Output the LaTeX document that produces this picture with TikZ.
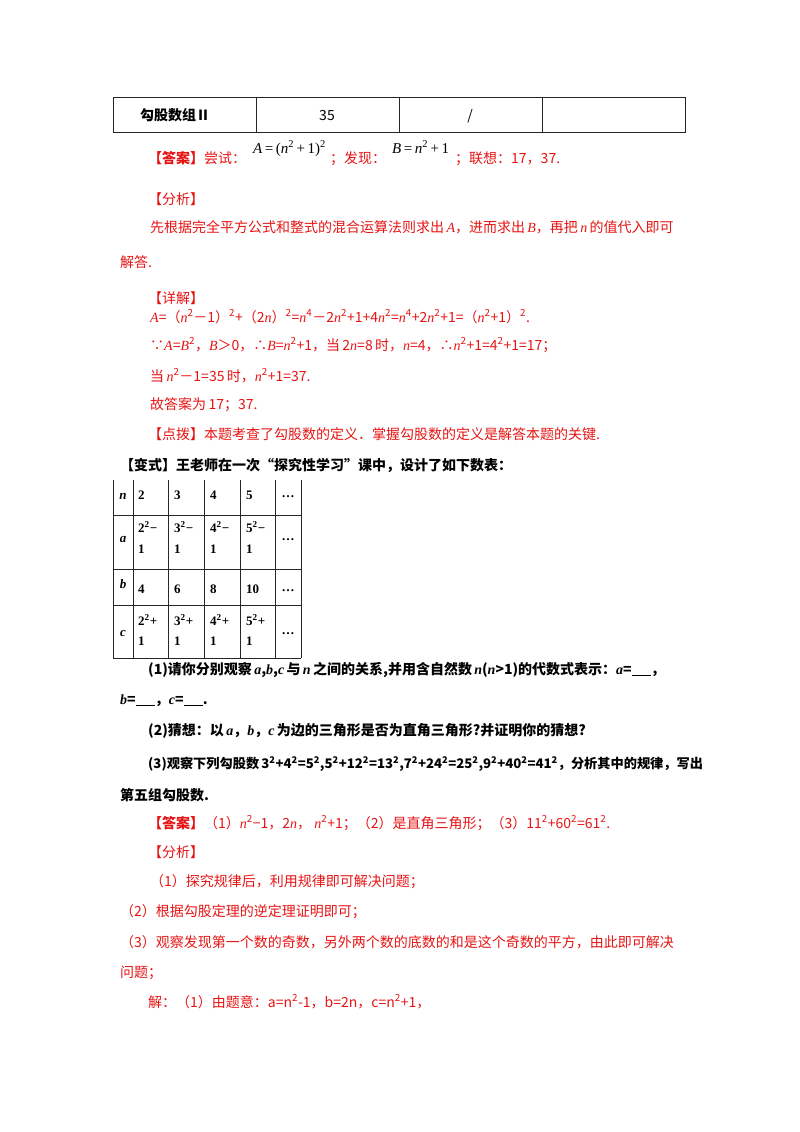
\documentclass[tikz,border=0pt]{standalone}
\usepackage{fontspec}
\setmainfont{Noto Sans CJK SC}
\newfontfamily\ser{Liberation Serif}
\newcommand{\vv}[1]{{\ser\itshape #1}}
\newcommand{\sq}[1]{\textsuperscript{#1}}
\definecolor{ans}{RGB}{230,20,20}
\begin{document}
\begin{tikzpicture}[x=1pt,y=-1pt,
  t/.style={anchor=base west,inner sep=0,font=\fontsize{14}{14}\selectfont},
  r/.style={t,text=ans},
  b/.style={t,font=\fontsize{14}{14}\selectfont\bfseries},
  c/.style={anchor=base,inner sep=0,font=\fontsize{14}{14}\selectfont},
  g/.style={line width=1pt,black!85}]
\useasboundingbox (0,0) rectangle (800,1132);
% top table
\draw[g] (113,97) rectangle (685,132);
\foreach \x in {256,399,542} \draw[g] (\x,97) -- (\x,132);
\node[c,font=\fontsize{14}{14}\selectfont\bfseries] (t1) at (175,120) {勾股数组Ⅱ};
\node[c] (t2) at (327,120) {35};
\node[c] (t3) at (470,120) {/};
% answer
\node[r] (l1) at (148,163) {\textbf{【答案】}尝试：};
\node[t,font=\fontsize{15}{15}\ser] (f1) at (253,153) {\vv{A}\,=\,(\vv{n}\sq{2}\,+\,1)\sq{2}};
\node[r] (l1b) at (330,163) {；发现：};
\node[t,font=\fontsize{15}{15}\ser] (f2) at (392,153) {\vv{B}\,=\,\vv{n}\sq{2}\,+\,1};
\node[r] (l1c) at (455,163) {；联想：17，37.};
\node[r] (l2) at (148,204) {【分析】};
\node[r] (l3) at (150,232) {先根据完全平方公式和整式的混合运算法则求出\,\vv{A}，进而求出\,\vv{B}，再把\,\vv{n}\,的值代入即可};
\node[r] (l4) at (120,267) {解答.};
\node[r] (l5) at (148,303) {【详解】};
\node[r] (l6) at (150,322) {\vv{A}=（\vv{n}\sq{2}－1）\sq{2}+（2\vv{n}）\sq{2}=\vv{n}\sq{4}－2\vv{n}\sq{2}+1+4\vv{n}\sq{2}=\vv{n}\sq{4}+2\vv{n}\sq{2}+1=（\vv{n}\sq{2}+1）\sq{2}.};
\node[r] (l7) at (150,350) {∵\vv{A}=\vv{B}\sq{2}，\vv{B}＞0，∴\vv{B}=\vv{n}\sq{2}+1，当\,2\vv{n}=8\,时，\vv{n}=4，∴\vv{n}\sq{2}+1=4\sq{2}+1=17；};
\node[r] (l8) at (150,381) {当\,\vv{n}\sq{2}－1=35\,时，\vv{n}\sq{2}+1=37.};
\node[r] (l9) at (150,409) {故答案为\,17；37.};
\node[r] (l10) at (148,439) {【点拨】本题考查了勾股数的定义．掌握勾股数的定义是解答本题的关键.};
\node[b] (l11) at (120,470) {【变式】王老师在一次“探究性学习”课中，设计了如下数表：};
% second table
\foreach \x in {113,133,168,204,240,275,301} \draw[g] (\x,480) -- (\x,658);
\foreach \y in {515,569,605,658} \draw[g] (113,\y) -- (301,\y);
\foreach \lab/\y in {n/499,a/542,b/588,c/636}
  \node[c,font=\fontsize{13}{13}\ser\bfseries\itshape] (h\lab) at (123,\y) {\lab};
\foreach \v [count=\i] in {2,3,4,5} {
  \node[t,font=\fontsize{13}{13}\ser\bfseries] (nn\i) at (138+36*\i-36,499) {\v};
  \node[t,font=\fontsize{13}{13}\ser\bfseries] (aa\i) at (138+36*\i-36,532) {\v\sq{2}−};
  \node[t,font=\fontsize{13}{13}\ser\bfseries] (ab\i) at (138+36*\i-36,553) {1};
  \node[t,font=\fontsize{13}{13}\ser\bfseries] (ca\i) at (138+36*\i-36,625) {\v\sq{2}+};
  \node[t,font=\fontsize{13}{13}\ser\bfseries] (cb\i) at (138+36*\i-36,645) {1};
}
\node[t,font=\fontsize{13}{13}\ser\bfseries] (b1) at (138,593) {4};
\node[t,font=\fontsize{13}{13}\ser\bfseries] (b2) at (174,593) {6};
\node[t,font=\fontsize{13}{13}\ser\bfseries] (b3) at (210,593) {8};
\node[t,font=\fontsize{13}{13}\ser\bfseries] (b4) at (246,593) {10};
\foreach \y [count=\i] in {497,540,591,634} \node[c,font=\fontsize{13}{13}\ser\bfseries] (d\i) at (288,\y) {…};
% questions
\node[b] (q1) at (148,674) {(1)请你分别观察\,\vv{a},\vv{b},\vv{c}\,与\,\vv{n}\,之间的关系,并用含自然数\,\vv{n}(\vv{n}>1)的代数式表示：\vv{a}=\underline{\ \ \ \ \ \ }，};
\node[b] (q1b) at (120,704) {\vv{b}=\underline{\ \ \ \ \ \ }，\vv{c}=\underline{\ \ \ \ \ \ }.};
\node[b] (q2) at (148,735) {(2)猜想：以\,\vv{a}，\vv{b}，\vv{c}\,为边的三角形是否为直角三角形?并证明你的猜想?};
\node[b,font=\fontsize{13.2}{14}\selectfont\bfseries] (q3) at (148,768) {(3)观察下列勾股数\,3\sq{2}+4\sq{2}=5\sq{2},5\sq{2}+12\sq{2}=13\sq{2},7\sq{2}+24\sq{2}=25\sq{2},9\sq{2}+40\sq{2}=41\sq{2}，分析其中的规律，写出};
\node[b] (q4) at (120,800) {第五组勾股数.};
\node[r] (k1) at (148,828) {\textbf{【答案】}（1）\vv{n}\sq{2}−1，2\vv{n}，\ \vv{n}\sq{2}+1；（2）是直角三角形；（3）11\sq{2}+60\sq{2}=61\sq{2}.};
\node[r] (k2) at (148,857) {【分析】};
\node[r] (k3) at (150,886) {（1）探究规律后，利用规律即可解决问题；};
\node[r] (k4) at (120,916) {（2）根据勾股定理的逆定理证明即可；};
\node[r] (k5) at (120,947) {（3）观察发现第一个数的奇数，另外两个数的底数的和是这个奇数的平方，由此即可解决};
\node[r] (k6) at (120,977) {问题；};
\node[r] (k7) at (148,1007) {解：（1）由题意：a=n\sq{2}-1，b=2n，c=n\sq{2}+1，};
\end{tikzpicture}
\end{document}
